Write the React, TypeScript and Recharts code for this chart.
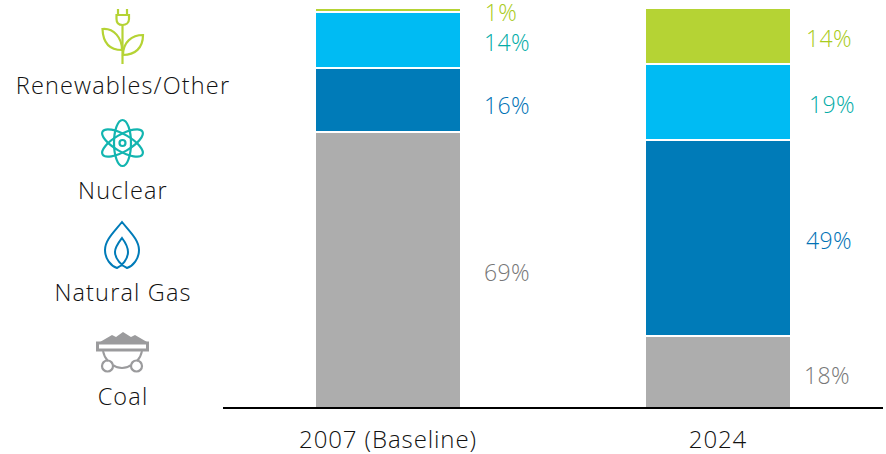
import { Bar, BarChart, LabelList, XAxis, YAxis } from 'recharts';

const years = ['2007 (Baseline)', '2024'];
const coal = [69, 18];
const naturalGas = [16, 49];
const nuclear = [14, 19];
const renewables = [1, 14];

const chartData = years.map((year, i) => ({
  year,
  coal: coal[i],
  naturalGas: naturalGas[i],
  nuclear: nuclear[i],
  renewables: renewables[i],
}));

const FONT = '"Open Sans", sans-serif';
const GREEN = '#B5D334';
const TEAL = '#12B5B0';
const CYAN = '#00BBF3';
const BLUE = '#007BB8';
const GREY = '#ADADAD';

const makeLabel = (color: string, dx: number[], dy: number[]) => (props: any) => {
  const { x, y, width, height, value, index } = props;
  return (
    <text
      x={x + width + dx[index]}
      y={y + height / 2 + dy[index]}
      fill={color}
      fontFamily={FONT}
      fontWeight={300}
      fontSize={23}
      letterSpacing={0.4}
      textAnchor="middle"
      dominantBaseline="central"
    >
      {value}%
    </text>
  );
};

const legendText: React.CSSProperties = {
  position: 'absolute',
  left: 0,
  width: 246,
  textAlign: 'center',
  fontFamily: FONT,
  fontWeight: 300,
  fontSize: 23.5,
  lineHeight: '30px',
  color: '#111',
  letterSpacing: 1.15,
};

function Icons() {
  return (
    <svg width={240} height={454} style={{ position: 'absolute', left: 0, top: 0 }}>
      <g fill="none" stroke={GREEN} strokeWidth={2.2}>
        <path d="M118 9V15M127 9V15M116.5 15H129V19C129 23 126 25 122.5 25C119 25 116.5 23 116.5 19Z" />
        <path d="M122.5 25V64" />
        <path d="M102.5 29C114 28 122 38 122 50C109 50 103 42 102.5 29Z" />
        <path d="M143 35C132 35 123 42 123 55C135 55 143 48 143 35Z" />
      </g>
      <g fill="none" stroke={TEAL} strokeWidth={2.2}>
        <ellipse cx={122.5} cy={143} rx={8.5} ry={23} />
        <ellipse cx={122.5} cy={143} rx={8.5} ry={23} transform="rotate(60 122.5 143)" />
        <ellipse cx={122.5} cy={143} rx={8.5} ry={23} transform="rotate(-60 122.5 143)" />
        <circle cx={122.5} cy={143} r={3} />
      </g>
      <path
        fill="none"
        stroke={BLUE}
        strokeWidth={2}
        d="M122 222C114 232 105 240 105 250C105 259 111 266 117 268C122 266 128 259 128 252C128 247 125 242 122 238C119 242 115 247 115 252C115 259 122 266 127 268C133 266 139 259 139 250C139 240 130 232 122 222Z"
      />
      <g stroke="#9B9B9D" fill="none">
        <path
          fill="#9B9B9D"
          stroke="none"
          d="M100 342L112 335L116 337L123 332L131 337L135 335L147 342Z"
        />
        <rect x={97.5} y={343} width={50} height={7} strokeWidth={3} fill="#fff" />
        <path strokeWidth={2} d="M103 351C104 356 106 359 108 361M142 351C141 356 139 359 137 361M113 365C118 369 126 369 131 365" />
        <circle cx={107.5} cy={366} r={5.5} strokeWidth={2.2} />
        <circle cx={136.5} cy={366} r={5.5} strokeWidth={2.2} />
      </g>
    </svg>
  );
}

export default function App() {
  return (
    <div style={{ position: 'absolute', left: 0, top: 0, width: 886, height: 454, background: '#fff' }}>
      <BarChart
        width={886}
        height={454}
        data={chartData}
        margin={{ top: 8, right: 3, bottom: 0, left: 223 }}
        barSize={146}
      >
        <XAxis
          dataKey="year"
          height={46}
          interval={0}
          tickLine={false}
          axisLine={{ stroke: '#000', strokeWidth: 2 }}
          tick={{ fontFamily: FONT, fontWeight: 300, fontSize: 24, fill: '#111', letterSpacing: 0.9 }}
          tickMargin={17}
        />
        <YAxis hide domain={[0, 100]} />
        <Bar dataKey="coal" stackId="a" fill={GREY} stroke="#fff" strokeWidth={2} isAnimationActive={false}>
          <LabelList dataKey="coal" content={makeLabel('#777777', [46, 36], [2, 3])} />
        </Bar>
        <Bar dataKey="naturalGas" stackId="a" fill={BLUE} stroke="#fff" strokeWidth={2} isAnimationActive={false}>
          <LabelList dataKey="naturalGas" content={makeLabel('#0072B5', [46, 38], [5, 2])} />
        </Bar>
        <Bar dataKey="nuclear" stackId="a" fill={CYAN} stroke="#fff" strokeWidth={2} isAnimationActive={false}>
          <LabelList dataKey="nuclear" content={makeLabel('#03ACA7', [46, 41], [2, 2])} />
        </Bar>
        <Bar dataKey="renewables" stackId="a" fill={GREEN} stroke="#fff" strokeWidth={2} isAnimationActive={false}>
          <LabelList dataKey="renewables" content={makeLabel('#A9CB20', [40, 38], [2, 2])} />
        </Bar>
      </BarChart>
      <Icons />
      <div style={{ ...legendText, top: 70 }}>Renewables/Other</div>
      <div style={{ ...legendText, top: 175 }}>Nuclear</div>
      <div style={{ ...legendText, top: 277 }}>Natural Gas</div>
      <div style={{ ...legendText, top: 381 }}>Coal</div>
    </div>
  );
}
